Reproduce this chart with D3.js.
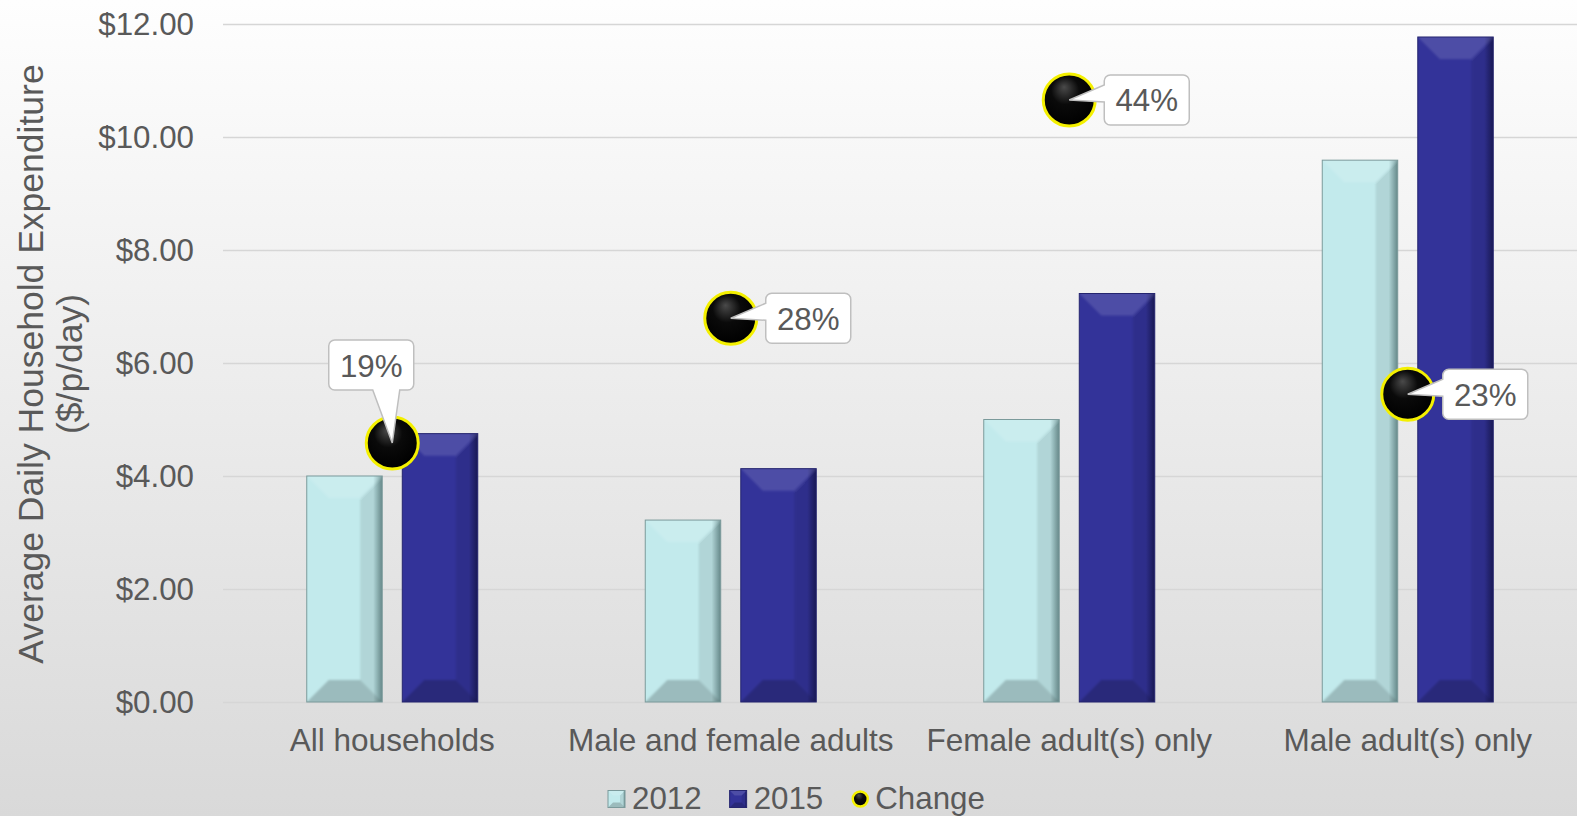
<!DOCTYPE html>
<meta charset="utf-8">
<title>Average Daily Household Expenditure</title>
<style>

body {
  margin: 0;
  background: #fff;
}

text {
  font-family: "Liberation Sans", Arial, sans-serif;
  fill: #595959;
}

</style>
<body>
<script src="https://cdn.jsdelivr.net/npm/d3@7"></script>
<script>

var categories = ["All households", "Male and female adults", "Female adult(s) only", "Male adult(s) only"],
    series = ["2012", "2015"],
    values2012 = [4.00, 3.22, 5.00, 9.59],
    values2015 = [4.75, 4.13, 7.23, 11.77],
    change = [0.191, 0.283, 0.444, 0.227],
    yTicks = [0, 2, 4, 6, 8, 10, 12];

// where each change label sits relative to its marker
var labelSide = ["top", "right", "right", "right"];

var width = 1577,
    height = 816,
    margin = {top: 24, right: 0, bottom: 114, left: 223};

var palette = {
  "2012": {base: "#c2eaec", dark: "#6f9596", edge: "#7b9a9b"},
  "2015": {base: "#333399", dark: "#1b1b5c", edge: "#25256f"}
};

var svg = d3.select("body").append("svg")
    .attr("width", width)
    .attr("height", height);

var defs = svg.append("defs");

var bg = defs.append("linearGradient").attr("id", "bg")
    .attr("x1", 0).attr("y1", 0).attr("x2", 0).attr("y2", 1);
bg.append("stop").attr("offset", 0).attr("stop-color", "#fefefe");
bg.append("stop").attr("offset", 1).attr("stop-color", "#d9d9d9");

series.forEach(function(s) {
  var lg = defs.append("linearGradient").attr("id", "face" + s)
      .attr("x1", 0).attr("y1", 0).attr("x2", 1).attr("y2", 0);
  lg.append("stop").attr("offset", 0).attr("stop-color", palette[s].base);
  lg.append("stop").attr("offset", 0.88).attr("stop-color", palette[s].base);
  lg.append("stop").attr("offset", 1).attr("stop-color", palette[s].dark);
});

defs.append("filter").attr("id", "soft")
    .attr("x", "-20%").attr("y", "-20%").attr("width", "140%").attr("height", "140%")
  .append("feGaussianBlur").attr("stdDeviation", 1.3);

var ball = defs.append("radialGradient").attr("id", "ball")
    .attr("cx", "45%").attr("cy", "40%").attr("r", "60%")
    .attr("fx", "40%").attr("fy", "25%");
ball.append("stop").attr("offset", 0).attr("stop-color", "#4a4a4a");
ball.append("stop").attr("offset", 0.45).attr("stop-color", "#0a0a0a");
ball.append("stop").attr("offset", 1).attr("stop-color", "#000");

svg.append("rect")
    .attr("width", width)
    .attr("height", height)
    .attr("fill", "url(#bg)");

var x0 = d3.scaleBand()
    .domain(categories)
    .range([margin.left, width - margin.right]);

var x1 = d3.scaleBand()
    .domain(series)
    .range([-85.5, 85.5])
    .paddingInner(0.21);

var y = d3.scaleLinear()
    .domain([0, 12])
    .range([height - margin.bottom, margin.top]);

var y2 = d3.scaleLinear()
    .domain([0, 0.5])
    .range(y.range());

// gridlines + tick labels
var yAxis = svg.append("g")
    .attr("transform", "translate(" + margin.left + ",0)")
    .call(d3.axisLeft(y)
      .tickValues(yTicks)
      .tickFormat(d3.format("$.2f"))
      .tickSize(-(width - margin.left - margin.right))
      .tickPadding(29))
    .attr("font-size", 31.3);
yAxis.select(".domain").remove();
yAxis.selectAll("line").attr("stroke", "#d6d6d6").attr("stroke-width", 1.3);

var xAxis = svg.append("g")
    .attr("transform", "translate(0," + y(0) + ")")
    .call(d3.axisBottom(x0).tickSize(0).tickPadding(27))
    .attr("font-size", 31.5);
xAxis.select(".domain").remove();

svg.append("text")
    .attr("transform", "translate(42.7," + ((margin.top + y(0)) / 2 + 1) + ")rotate(-90)")
    .attr("text-anchor", "middle")
    .style("font-size", "35.5px")
    .text("Average Daily Household Expenditure");

svg.append("text")
    .attr("transform", "translate(82," + ((margin.top + y(0)) / 2 + 1) + ")rotate(-90)")
    .attr("text-anchor", "middle")
    .style("font-size", "35.5px")
    .text("($/p/day)");

var clipId = 0;

function drawBar(g, x, y, w, h, key, b, blur) {
  var c = palette[key],
      id = "clip" + (clipId++),
      e = blur ? 6 : 0;
  b = Math.min(b, h / 2, w / 2);
  defs.append("clipPath").attr("id", id)
    .append("rect")
      .attr("x", x).attr("y", y)
      .attr("width", w).attr("height", h);
  g.append("rect")
      .attr("x", x).attr("y", y)
      .attr("width", w).attr("height", h)
      .attr("fill", "url(#face" + key + ")");
  var faces = [
    {pts: [[x - e, y - e], [x + w + e, y - e], [x + w - b, y + b], [x + b, y + b]], fill: "#fff", op: 0.13},
    {pts: [[x - e, y + h + e], [x + w + e, y + h + e], [x + w - b, y + h - b], [x + b, y + h - b]], fill: "#000", op: 0.2},
    {pts: [[x + w + e, y - e], [x + w - b, y + b], [x + w - b, y + h - b], [x + w + e, y + h + e]], fill: "#000", op: 0.09}
  ];
  var ov = g.append("g").attr("clip-path", "url(#" + id + ")")
    .append("g").attr("filter", blur ? "url(#soft)" : null);
  faces.forEach(function(f) {
    ov.append("polygon")
        .attr("points", f.pts.map(function(p) { return p.join(","); }).join(" "))
        .attr("fill", f.fill)
        .attr("fill-opacity", f.op);
  });
  g.append("rect")
      .attr("x", x).attr("y", y)
      .attr("width", w).attr("height", h)
      .attr("fill", "none")
      .attr("stroke", c.edge)
      .attr("stroke-width", 1);
}

var groups = svg.selectAll(".cat")
    .data(categories)
  .enter().append("g")
    .attr("class", "cat")
    .attr("transform", function(d) { return "translate(" + (x0(d) + x0.bandwidth() / 2) + ",0)"; });

groups.each(function(d, i) {
  var g = d3.select(this);
  [values2012[i], values2015[i]].forEach(function(v, j) {
    drawBar(g, x1(series[j]), y(v), x1.bandwidth(), y(0) - y(v), series[j], 22, true);
  });
});

function calloutPath(bx, by, bw, bh, tx, ty, side) {
  var r = 6, p = d3.path();
  p.moveTo(bx + r, by);
  p.lineTo(bx + bw - r, by);
  p.arcTo(bx + bw, by, bx + bw, by + r, r);
  p.lineTo(bx + bw, by + bh - r);
  p.arcTo(bx + bw, by + bh, bx + bw - r, by + bh, r);
  if (side === "top") {
    p.lineTo(bx + 71, by + bh);
    p.lineTo(tx, ty);
    p.lineTo(bx + 44, by + bh);
  }
  p.lineTo(bx + r, by + bh);
  p.arcTo(bx, by + bh, bx, by + bh - r, r);
  if (side === "right") {
    p.lineTo(bx, by + 27);
    p.lineTo(tx, ty);
    p.lineTo(bx, by + 10);
  }
  p.lineTo(bx, by + r);
  p.arcTo(bx, by, bx + r, by, r);
  p.closePath();
  return p.toString();
}

// change markers
var markers = svg.selectAll(".change")
    .data(change)
  .enter().append("g")
    .attr("class", "change");

markers.append("circle")
    .attr("cx", function(d, i) { return x0(categories[i]) + x0.bandwidth() / 2; })
    .attr("cy", function(d) { return y2(d); })
    .attr("r", 26)
    .attr("fill", "url(#ball)")
    .attr("stroke", "#f4f000")
    .attr("stroke-width", 3);

markers.each(function(d, i) {
  var cx = x0(categories[i]) + x0.bandwidth() / 2,
      cy = y2(d),
      bw = 85, bh = 50,
      bx, by;
  if (labelSide[i] === "top") {
    bx = cx - 63.5; by = cy - 103;
  } else {
    bx = cx + 35; by = cy - 25;
  }
  var g = d3.select(this);
  g.append("path")
      .attr("d", calloutPath(bx, by, bw, bh, cx, cy, labelSide[i]))
      .attr("fill", "#fff")
      .attr("stroke", "#bfbfbf")
      .attr("stroke-width", 1.5);
  g.append("text")
      .attr("x", bx + bw / 2)
      .attr("y", by + bh / 2 + 11.5)
      .attr("text-anchor", "middle")
      .style("font-size", "31.3px")
      .text(d3.format(".0%")(d));
});

// legend
var legend = svg.append("g");
var lx = 608, ly = 799;
series.forEach(function(s) {
  var g = legend.append("g");
  drawBar(g, lx, ly - 8.5, 17, 17, s, 5, false);
  var t = g.append("text")
      .attr("x", lx + 24)
      .attr("y", ly + 10)
      .style("font-size", "31.3px")
      .text(s);
  lx += 24 + t.node().getComputedTextLength() + 28;
});
legend.append("circle")
    .attr("cx", lx + 9)
    .attr("cy", ly)
    .attr("r", 7.5)
    .attr("fill", "url(#ball)")
    .attr("stroke", "#f4f000")
    .attr("stroke-width", 2.5);
legend.append("text")
    .attr("x", lx + 24)
    .attr("y", ly + 10)
    .style("font-size", "31.3px")
    .text("Change");

</script>
